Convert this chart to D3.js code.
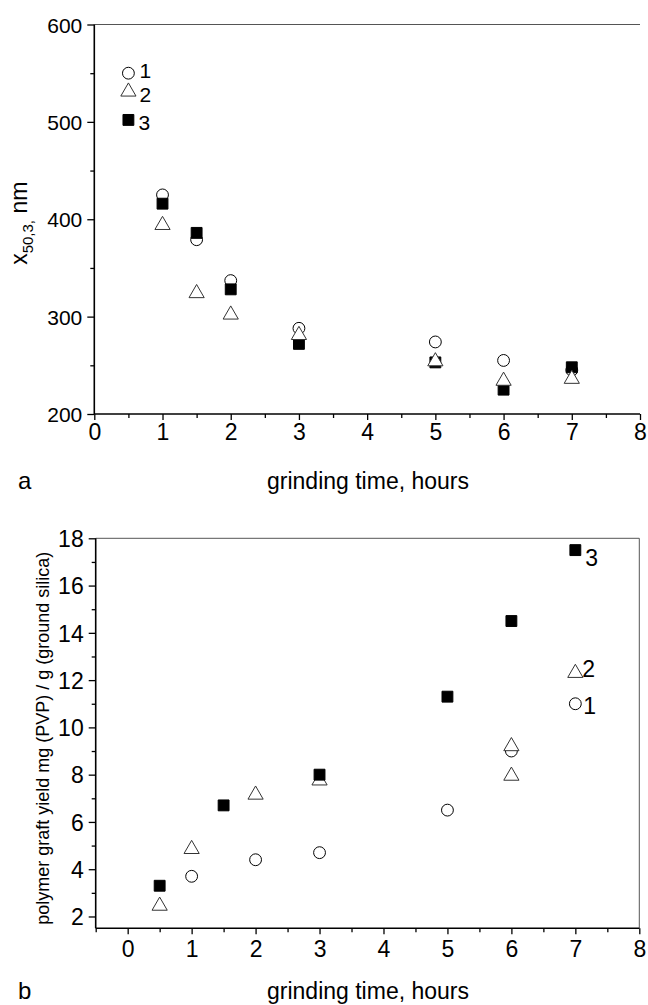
<!DOCTYPE html>
<html><head><meta charset="utf-8">
<script src="https://cdn.jsdelivr.net/npm/d3@7"></script>
<style>
body{margin:0;background:#fff}
svg text{font-family:"Liberation Sans",Arial,sans-serif;fill:#000}
</style>
</head><body>
<svg id="c" width="648" height="1005"></svg>
<script>
// ---- data (panel a: particle size x50,3 in nm) ----
const hoursA = [0.5, 1, 1.5, 2, 3, 5, 6, 7];
const sizeA1 = [550, 425, 379, 337, 288, 274, 255, 245];
const sizeA2 = [531, 394, 324, 302, 281, 254, 234, 236];
const sizeA3 = [502, 416, 386, 328, 272, 253, 225, 248];
// ---- data (panel b: polymer graft yield) ----
const hoursB1 = [1, 2, 3, 5, 6, 7];
const yieldB1 = [3.7, 4.4, 4.7, 6.5, 9.0, 11.0];
const hoursB2 = [0.5, 1, 2, 3, 6, 6, 7];
const yieldB2 = [2.45, 4.85, 7.15, 7.75, 9.2, 7.95, 12.3];
const hoursB3 = [0.5, 1.5, 3, 5, 6, 7];
const yieldB3 = [3.3, 6.7, 8.0, 11.3, 14.5, 17.5];
// ---- ticks / labels ----
const xTicks = [0, 1, 2, 3, 4, 5, 6, 7, 8];
const xMinorA = [0.5, 1.5, 2.5, 3.5, 4.5, 5.5, 6.5, 7.5];
const xMinorB = [-0.5, 0.5, 1.5, 2.5, 3.5, 4.5, 5.5, 6.5, 7.5];
const yTicksA = [200, 300, 400, 500, 600];
const yMinorA = [250, 350, 450, 550];
const yTicksB = [2, 4, 6, 8, 10, 12, 14, 16, 18];
const yMinorB = [3, 5, 7, 9, 11, 13, 15, 17];
const seriesNames = ["1", "2", "3"];
const xTitle = "grinding time, hours";
const yTitleB = "polymer graft yield mg (PVP) / g (ground silica)";

const svg = d3.select("#c");

function zip(xs, ys){ return xs.map((x,i)=>({x, y: ys[i]})); }

const symType = {"1": d3.symbolCircle, "2": d3.symbolTriangle, "3": d3.symbolSquare};
const symSize = {"1": 110, "2": 100, "3": 118};

function drawMarkers(g, x, y, pts, name){
  const isFilled = name === "3";
  g.selectAll(null).data(pts).enter().append("path")
    .attr("d", d3.symbol().type(symType[name]).size(symSize[name]))
    .attr("transform", d => `translate(${x(d.x)},${y(d.y)})`)
    .attr("fill", isFilled ? "#000" : "#fff")
    .attr("stroke", name === "2" ? "#333" : "#000")
    .attr("stroke-width", 1);
}

function styleAxis(g, fontSize){
  g.select(".domain").remove();
  g.selectAll(".tick line").attr("stroke", "#000").attr("stroke-width", 1.3);
  g.selectAll(".tick text").attr("font-size", fontSize).attr("font-family", '"Liberation Sans",Arial,sans-serif').attr("fill","#000");
}

function panel(cfg){
  const {x, y, xMinor, yTicks, yMinor, fontY, fontX, boxRight} = cfg;
  const g = svg.append("g");
  const [x0, x1] = x.range();
  const [y0, y1] = y.range();
  g.append("line").attr("x1", x0).attr("x2", x1).attr("y1", y1).attr("y2", y1)
    .attr("stroke", "#555").attr("stroke-width", 1);
  if (boxRight) {
    g.append("line").attr("x1", x1).attr("x2", x1).attr("y1", y1).attr("y2", y0)
      .attr("stroke", "#555").attr("stroke-width", 1);
  }
  const ya = g.append("g").attr("transform", `translate(${x0},0)`)
    .call(d3.axisLeft(y).tickValues(yTicks).tickSize(7).tickPadding(5).tickFormat(d3.format("d")));
  styleAxis(ya, fontY);
  ya.selectAll(".tick text").attr("dy", "0.36em");
  const ym = g.append("g").attr("transform", `translate(${x0},0)`)
    .call(d3.axisLeft(y).tickValues(yMinor).tickSize(4).tickFormat(""));
  styleAxis(ym, fontY);
  const xa = g.append("g").attr("transform", `translate(0,${y0})`)
    .call(d3.axisBottom(x).tickValues(xTicks).tickSize(6).tickPadding(cfg.xPad).tickFormat(d3.format("d")));
  styleAxis(xa, fontX);
  const xm = g.append("g").attr("transform", `translate(0,${y0})`)
    .call(d3.axisBottom(x).tickValues(xMinor).tickSize(4).tickFormat(""));
  styleAxis(xm, fontX);
  g.append("line").attr("x1", x0).attr("x2", x0).attr("y1", y0).attr("y2", y1)
    .attr("stroke", "#000").attr("stroke-width", 1.6);
  g.append("line").attr("x1", x0).attr("x2", x1).attr("y1", y0).attr("y2", y0)
    .attr("stroke", "#000").attr("stroke-width", 1.6);
  return g;
}

// ---------- Panel a ----------
const xA = d3.scaleLinear().domain([0, 8]).range([94.3, 640]);
const yA = d3.scaleLinear().domain([200, 600]).range([414, 24.5]);
const gA = panel({x: xA, y: yA, xMinor: xMinorA, yTicks: yTicksA, yMinor: yMinorA,
  fontY: 21, fontX: 23, boxRight: false, xPad: 4});

const ptsA = [zip(hoursA, sizeA1), zip(hoursA, sizeA2), zip(hoursA, sizeA3)];
drawMarkers(gA, xA, yA, ptsA[0], "1");
drawMarkers(gA, xA, yA, ptsA[2], "3");
drawMarkers(gA, xA, yA, ptsA[1], "2");

const labOffA = [[11, 5], [11, 10], [10, 10]];
seriesNames.forEach((n, i) => {
  const p = ptsA[i][0];
  gA.append("text").attr("x", xA(p.x) + labOffA[i][0]).attr("y", yA(p.y) + labOffA[i][1])
    .attr("font-size", 21).text(n);
});

const tA = gA.append("text")
  .attr("transform", `translate(27,${(yA.range()[0] + yA.range()[1]) / 2 + 4}) rotate(-90)`)
  .attr("text-anchor", "middle").attr("font-size", 23);
tA.append("tspan").text("x");
tA.append("tspan").attr("font-size", 15).attr("dy", 6).text("50,3,");
tA.append("tspan").attr("dy", -6).text(" nm");

gA.append("text").attr("x", 368).attr("y", 489).attr("text-anchor", "middle")
  .attr("font-size", 23).text(xTitle);
gA.append("text").attr("x", 18).attr("y", 489).attr("font-size", 24).text("a");

// ---------- Panel b ----------
const xB = d3.scaleLinear().domain([-0.5, 8]).range([95.7, 639.3]);
const yB = d3.scaleLinear().domain([1.5, 18]).range([928.3, 538.3]);
const gB = panel({x: xB, y: yB, xMinor: xMinorB, yTicks: yTicksB, yMinor: yMinorB,
  fontY: 23, fontX: 23, boxRight: true, xPad: 6});

const ptsB = [zip(hoursB1, yieldB1), zip(hoursB2, yieldB2), zip(hoursB3, yieldB3)];
drawMarkers(gB, xB, yB, ptsB[0], "1");
drawMarkers(gB, xB, yB, ptsB[1], "2");
drawMarkers(gB, xB, yB, ptsB[2], "3");

const labOffB = [[8, 10], [7, 4], [10, 16]];
seriesNames.forEach((n, i) => {
  const p = ptsB[i][ptsB[i].length - 1];
  gB.append("text").attr("x", xB(p.x) + labOffB[i][0]).attr("y", yB(p.y) + labOffB[i][1])
    .attr("font-size", 23).text(n);
});

gB.append("text")
  .attr("transform", `translate(49,${(yB.range()[0] + yB.range()[1]) / 2 + 5}) rotate(-90)`)
  .attr("text-anchor", "middle").attr("font-size", 18).text(yTitleB);

gB.append("text").attr("x", 368).attr("y", 999).attr("text-anchor", "middle")
  .attr("font-size", 23).text(xTitle);
gB.append("text").attr("x", 18).attr("y", 999).attr("font-size", 24).text("b");
</script>
</body></html>
